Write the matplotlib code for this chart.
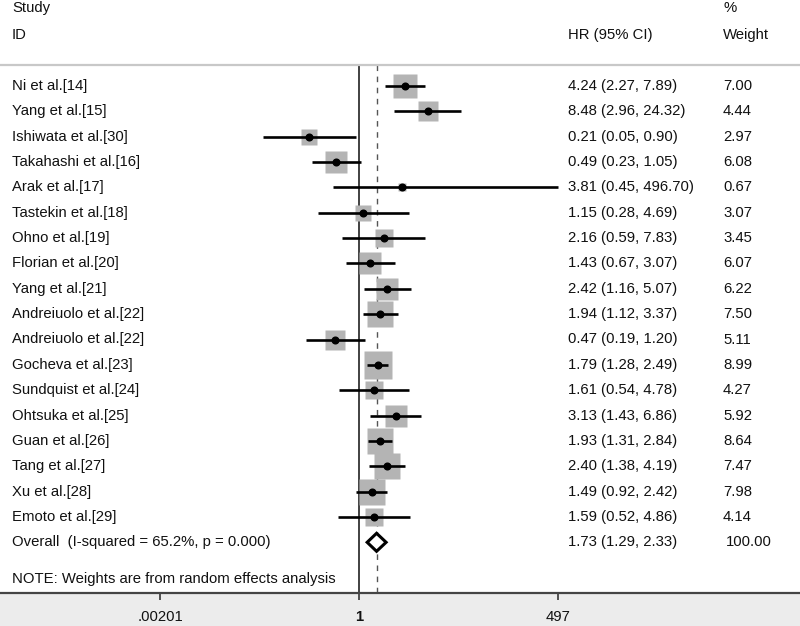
import numpy as np
import matplotlib
matplotlib.use("Agg")
import matplotlib.pyplot as plt
import matplotlib.transforms as mtransforms
from matplotlib.patches import Polygon, Rectangle

plt.rcParams['font.family'] = ['Liberation Sans', 'DejaVu Sans']

studies = ["Ni et al.[14]", "Yang et al.[15]", "Ishiwata et al.[30]", "Takahashi et al.[16]",
           "Arak et al.[17]", "Tastekin et al.[18]", "Ohno et al.[19]", "Florian et al.[20]",
           "Yang et al.[21]", "Andreiuolo et al.[22]", "Andreiuolo et al.[22]", "Gocheva et al.[23]",
           "Sundquist et al.[24]", "Ohtsuka et al.[25]", "Guan et al.[26]", "Tang et al.[27]",
           "Xu et al.[28]", "Emoto et al.[29]"]
hr = [4.24, 8.48, 0.21, 0.49, 3.81, 1.15, 2.16, 1.43, 2.42, 1.94, 0.47, 1.79, 1.61, 3.13, 1.93, 2.40, 1.49, 1.59]
lo = [2.27, 2.96, 0.05, 0.23, 0.45, 0.28, 0.59, 0.67, 1.16, 1.12, 0.19, 1.28, 0.54, 1.43, 1.31, 1.38, 0.92, 0.52]
hi = [7.89, 24.32, 0.90, 1.05, 496.70, 4.69, 7.83, 3.07, 5.07, 3.37, 1.20, 2.49, 4.78, 6.86, 2.84, 4.19, 2.42, 4.86]
weights = [7.00, 4.44, 2.97, 6.08, 0.67, 3.07, 3.45, 6.07, 6.22, 7.50, 5.11, 8.99, 4.27, 5.92, 8.64, 7.47, 7.98, 4.14]

overall_label = "Overall  (I-squared = 65.2%, p = 0.000)"
overall = (1.73, 1.29, 2.33)
overall_weight = 100.00
note = "NOTE: Weights are from random effects analysis"
tick_vals = [1 / 497, 1, 497]
tick_labels = [".00201", "1", "497"]

W, H = 800, 626
fig = plt.figure(figsize=(W / 100, H / 100), dpi=100)
fig.patch.set_facecolor("white")

# gray band under the axis
fig.add_artist(Rectangle((0, 0), 1, 33 / H, transform=fig.transFigure,
                         facecolor="#ececec", edgecolor="none", zorder=0))

axis_px = 593
ax = fig.add_axes([0, (H - axis_px) / H, 1, axis_px / H])
ax.set_facecolor("white")
ax.set_xscale("log")

# 1 at px 359, 497 at px 558
k = 199 / np.log(497)
ax.set_xlim(np.exp(-359 / k), np.exp((W - 359) / k))

row0, pitch = 86, 25.35
ax.set_ylim((axis_px - row0) / pitch, -row0 / pitch)

n = len(studies)
y = np.arange(n)
y_over = n
top_line = (65 - row0) / pitch

txt = "#111111"
fs = 10.7

# reference lines
ax.plot([1, 1], [top_line, (axis_px - row0) / pitch], color="#333333", lw=1.3, zorder=1)
ax.plot([overall[0]] * 2, [top_line, (axis_px - row0) / pitch], color="#555555", lw=1,
        dashes=(4, 4), zorder=1)
ax.axhline(top_line, color="#c8c8c8", lw=1.6, zorder=1)

# boxes, CI, points
box_px = 9.18 * np.sqrt(np.array(weights))
for i in range(n):
    ax.plot(hr[i], y[i], marker="s", ms=box_px[i] * 0.72, color="#b4b4b4", mec="none", zorder=2)
for i in range(n):
    ax.plot([lo[i], hi[i]], [y[i], y[i]], color="black", lw=1.9, solid_capstyle="butt", zorder=3)
    ax.plot(hr[i], y[i], marker="o", ms=4.8, color="black", zorder=4)

# overall diamond
h = 9 / pitch
est, dlo, dhi = overall
ax.add_patch(Polygon([(dlo, y_over), (est, y_over - h), (dhi, y_over), (est, y_over + h)],
                     closed=True, facecolor="white", edgecolor="black", lw=2.2, zorder=4))

# text columns
tr = mtransforms.blended_transform_factory(ax.transAxes, ax.transData)
x_study, x_hr, x_w = 12 / W, 568 / W, 723 / W
ax.text(x_study, (8 - row0) / pitch, "Study", transform=tr, fontsize=fs, color=txt, va="center")
ax.text(x_study, (35 - row0) / pitch, "ID", transform=tr, fontsize=fs, color=txt, va="center")
ax.text(x_hr, (35 - row0) / pitch, "HR (95% CI)", transform=tr, fontsize=fs, color=txt, va="center")
ax.text(x_w, (8 - row0) / pitch, "%", transform=tr, fontsize=fs, color=txt, va="center")
ax.text(x_w, (35 - row0) / pitch, "Weight", transform=tr, fontsize=fs, color=txt, va="center")

for i in range(n):
    ax.text(x_study, y[i], studies[i], transform=tr, fontsize=fs, color=txt, va="center")
    ax.text(x_hr, y[i], f"{hr[i]:.2f} ({lo[i]:.2f}, {hi[i]:.2f})", transform=tr,
            fontsize=fs, color=txt, va="center")
    ax.text(x_w, y[i], f"{weights[i]:.2f}", transform=tr, fontsize=fs, color=txt, va="center")

ax.text(x_study, y_over, overall_label, transform=tr, fontsize=fs, color=txt, va="center")
ax.text(x_hr, y_over, f"{est:.2f} ({dlo:.2f}, {dhi:.2f})", transform=tr, fontsize=fs,
        color=txt, va="center")
ax.text(726 / W, y_over, f"{overall_weight:.2f}", transform=tr, fontsize=fs, color=txt, va="center")
ax.text(x_study, (579 - row0) / pitch, note, transform=tr, fontsize=fs, color=txt, va="center")

# axis
for s in ["top", "left", "right"]:
    ax.spines[s].set_visible(False)
ax.spines["bottom"].set_color("#444444")
ax.spines["bottom"].set_linewidth(1.6)
ax.set_yticks([])
ax.set_xticks(tick_vals)
ax.set_xticklabels(tick_labels)
ax.xaxis.set_minor_locator(matplotlib.ticker.NullLocator())
ax.tick_params(axis="x", direction="out", length=5, width=1.3, color="#444444",
               labelsize=fs, labelcolor=txt, pad=7)
ax.get_xticklabels()[1].set_fontweight("bold")

fig.savefig("out.png", dpi=100)
